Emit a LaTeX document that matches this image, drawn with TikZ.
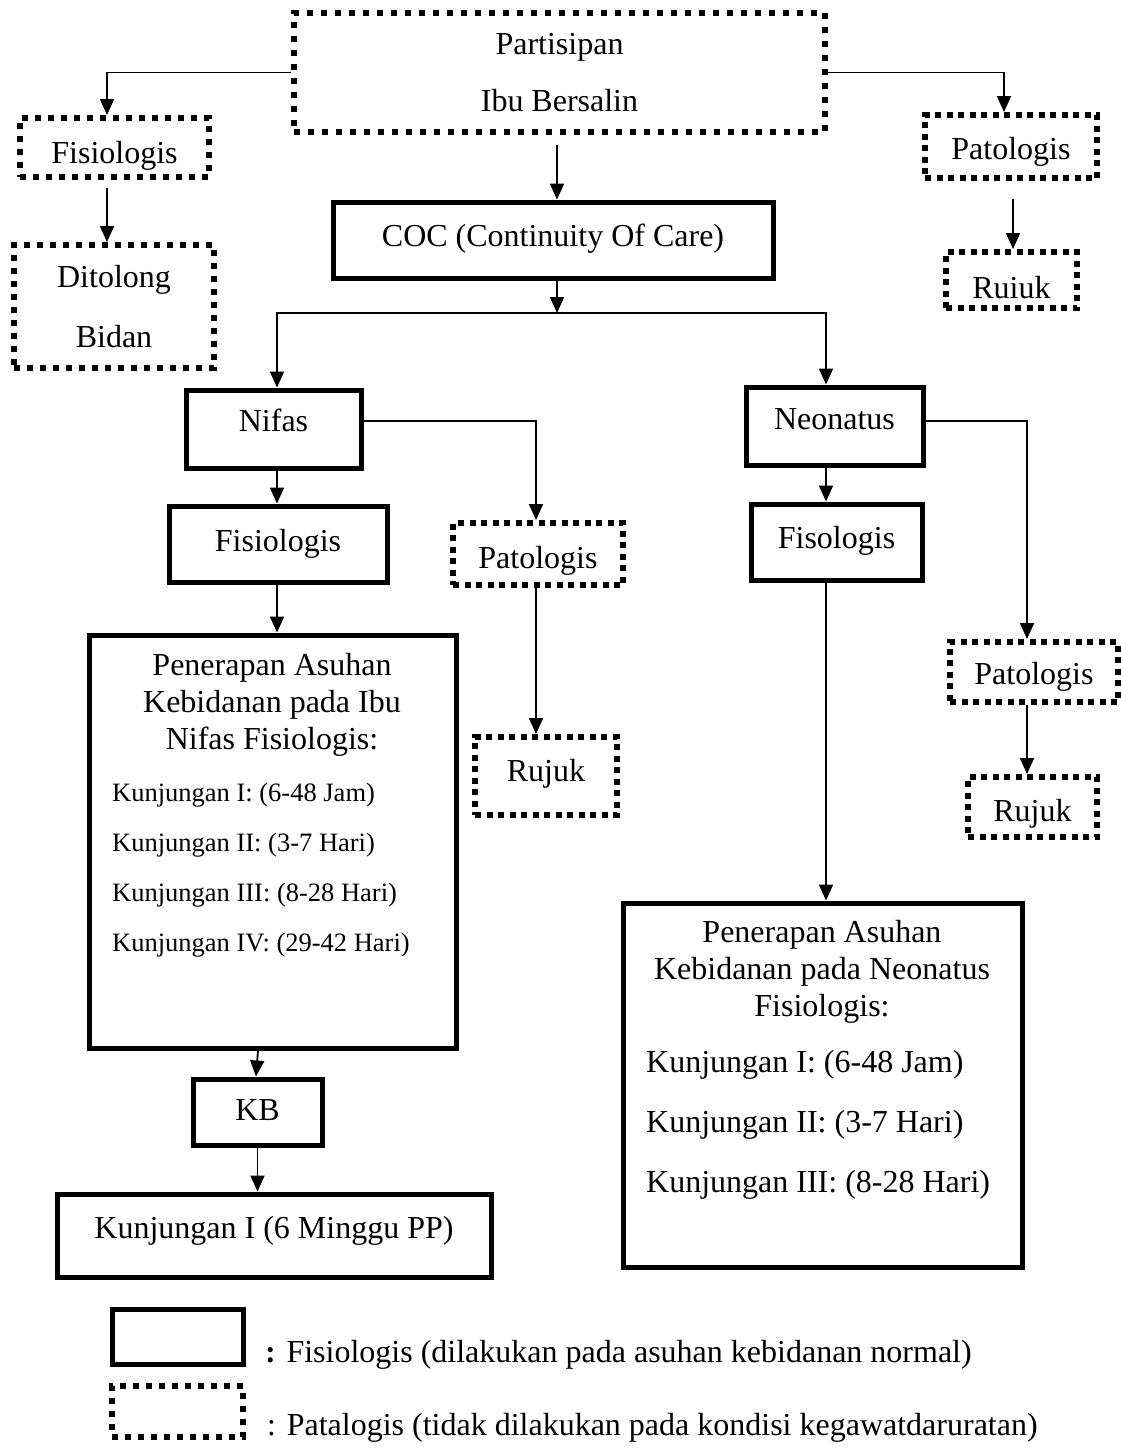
\documentclass[tikz,border=0pt]{standalone}
\usepackage{fontspec}
\setmainfont{Liberation Serif}
\usetikzlibrary{arrows.meta}

\begin{document}
\begin{tikzpicture}[x=1pt, y=-1pt,
  font=\fontsize{32}{37}\selectfont,
  fisio/.style={draw, line width=5pt, inner sep=0pt},
  pato/.style={draw, line width=6pt, dash pattern=on 6pt off #1, inner sep=0pt},
  pato/.default=5.5pt,
  tx/.style 2 args={text height=#1, text depth=#2},
  link/.style={-{Triangle[length=16pt,width=14pt]}, line width=1.8pt}]
      \useasboundingbox (0,0) rectangle (1121,1451);
      % atas
      \node [pato=8pt, align=center, minimum width=531pt, minimum height=119pt] (part) at (559.5,72.5) {Partisipan\\[20pt]Ibu Bersalin};
      \node [pato=7pt, tx={38pt}{7pt}, minimum width=189pt, minimum height=59pt] (fis0) at (114.5,147.5) {Fisiologis};
      \node [pato=7pt, align=center, minimum width=200pt, minimum height=123pt] (ditolong) at (114,306.5) {Ditolong\\[23pt]Bidan};
      \node [fisio, tx={23pt}{11pt}, minimum width=440pt, minimum height=76pt] (coc) at (553,240) {COC (Continuity Of Care)};
      \node [pato, tx={32pt}{7pt}, minimum width=172pt, minimum height=63pt] (pat0) at (1011,146.5) {Patologis};
      \node [pato, tx={43pt}{7pt}, minimum width=131pt, minimum height=56pt] (ruiuk) at (1011.5,280) {Ruiuk};
      % nifas
      \node [fisio, tx={23pt}{19pt}, minimum width=175pt, minimum height=78pt] (nifas) at (273.5,429) {Nifas};
      \node [fisio, tx={23pt}{9pt}, minimum width=218pt, minimum height=76pt] (fis1) at (278,544) {Fisiologis};
      \node [pato, tx={35pt}{7pt}, minimum width=170pt, minimum height=62pt] (pat1) at (538,554) {Patologis};
      \node [pato, tx={23pt}{13pt}, minimum width=142pt, minimum height=78pt] (rujuk1) at (546,776) {Rujuk};
      \node [fisio, minimum width=367pt, minimum height=413pt] (asuhan1) at (272.5,841.5) {};
      \node [align=center, inner sep=0pt] (judul1) at (272,705) {Penerapan Asuhan\\Kebidanan pada Ibu\\Nifas Fisiologis:};
      \node [anchor=west, align=left, inner sep=0pt, font=\fontsize{26.5}{50}\selectfont] (kunjungan1) at (112,870)
        {Kunjungan I: (6-48 Jam)\\Kunjungan II: (3-7 Hari)\\Kunjungan III: (8-28 Hari)\\Kunjungan IV: (29-42 Hari)};
      \node [fisio, tx={23pt}{7pt}, minimum width=129pt, minimum height=66pt] (kb) at (257.5,1112) {KB};
      \node [fisio, tx={23pt}{18pt}, minimum width=434pt, minimum height=83pt] (kunj) at (274,1235.5) {Kunjungan I (6 Minggu PP)};
      % neonatus
      \node [fisio, tx={23pt}{17pt}, minimum width=177pt, minimum height=78pt] (neo) at (834.5,426) {Neonatus};
      \node [fisio, tx={23pt}{11pt}, minimum width=171pt, minimum height=76pt] (fis2) at (836.5,542) {Fisologis};
      \node [pato, tx={31pt}{7pt}, minimum width=168pt, minimum height=60pt] (pat2) at (1034,672) {Patologis};
      \node [pato, tx={35pt}{7pt}, minimum width=129pt, minimum height=60pt] (rujuk2) at (1032.5,807) {Rujuk};
      \node [fisio, minimum width=399pt, minimum height=364pt] (asuhan2) at (822.5,1085) {};
      \node [align=center, inner sep=0pt] (judul2) at (822,972) {Penerapan Asuhan\\Kebidanan pada Neonatus\\Fisiologis:};
      \node [anchor=west, align=left, inner sep=0pt, font=\fontsize{32}{60}\selectfont] (kunjungan2) at (646,1125)
        {Kunjungan I: (6-48 Jam)\\Kunjungan II: (3-7 Hari)\\Kunjungan III: (8-28 Hari)};
      % keterangan
      \node [fisio, minimum width=131pt, minimum height=55pt] (legfisio) at (177.5,1336.5) {};
      \node [pato=7pt, minimum width=131pt, minimum height=51pt] (legpato) at (177.5,1411.5) {};
      \node [anchor=west, inner sep=0pt] (ketfisio) at (265,1355) {\textbf{:} Fisiologis (dilakukan pada asuhan kebidanan normal)};
      \node [anchor=west, inner sep=0pt] (ketpato) at (267,1428) {: Patalogis (tidak dilakukan pada kondisi kegawatdaruratan)};

      \coordinate (split) at (557,313);
      \coordinate (kiri) at (107,0);
      \coordinate (kanan) at (1004,0);
      \coordinate (kanan2) at (1013,0);
      \coordinate (nifasx) at (277,0);
      \coordinate (patx) at (536,0);
      \coordinate (neox) at (826,0);
      \coordinate (neopatx) at (1027,0);

      \draw [link] (part.west) -| (kiri |- fis0.north);
      \draw [link] (part.east) -| (kanan |- pat0.north);
      \draw [link, shorten <=8pt] (kiri |- fis0.south) -- (kiri |- ditolong.north);
      \draw [link, shorten <=18pt] (kanan2 |- pat0.south) -- (kanan2 |- ruiuk.north);
      \draw [link, shorten <=10pt] (split |- part.south) -- (split |- coc.north);
      \draw [link] (split |- coc.south) -- (split);
      \draw [link] (split) -| (nifasx |- nifas.north);
      \draw [link] (split) -| (neox |- neo.north);
      \draw [link] (nifasx |- nifas.south) -- (nifasx |- fis1.north);
      \draw [link] ([yshift=8pt]nifas.east) -| (patx |- pat1.north);
      \draw [link] (patx |- pat1.south) -- (patx |- rujuk1.north);
      \draw [link] (nifasx |- fis1.south) -- (nifasx |- asuhan1.north);
      \draw [link] ([xshift=-14.5pt]asuhan1.south) -- ([xshift=-1.5pt]kb.north);
      \draw [link] (kb.south) -- (kb.south |- kunj.north);
      \draw [link] (neox |- neo.south) -- (neox |- fis2.north);
      \draw [link] ([yshift=5pt]neo.east) -| (neopatx |- pat2.north);
      \draw [link] (neopatx |- pat2.south) -- (neopatx |- rujuk2.north);
      \draw [link] (neox |- fis2.south) -- (neox |- asuhan2.north);
\end{tikzpicture}
\end{document}
